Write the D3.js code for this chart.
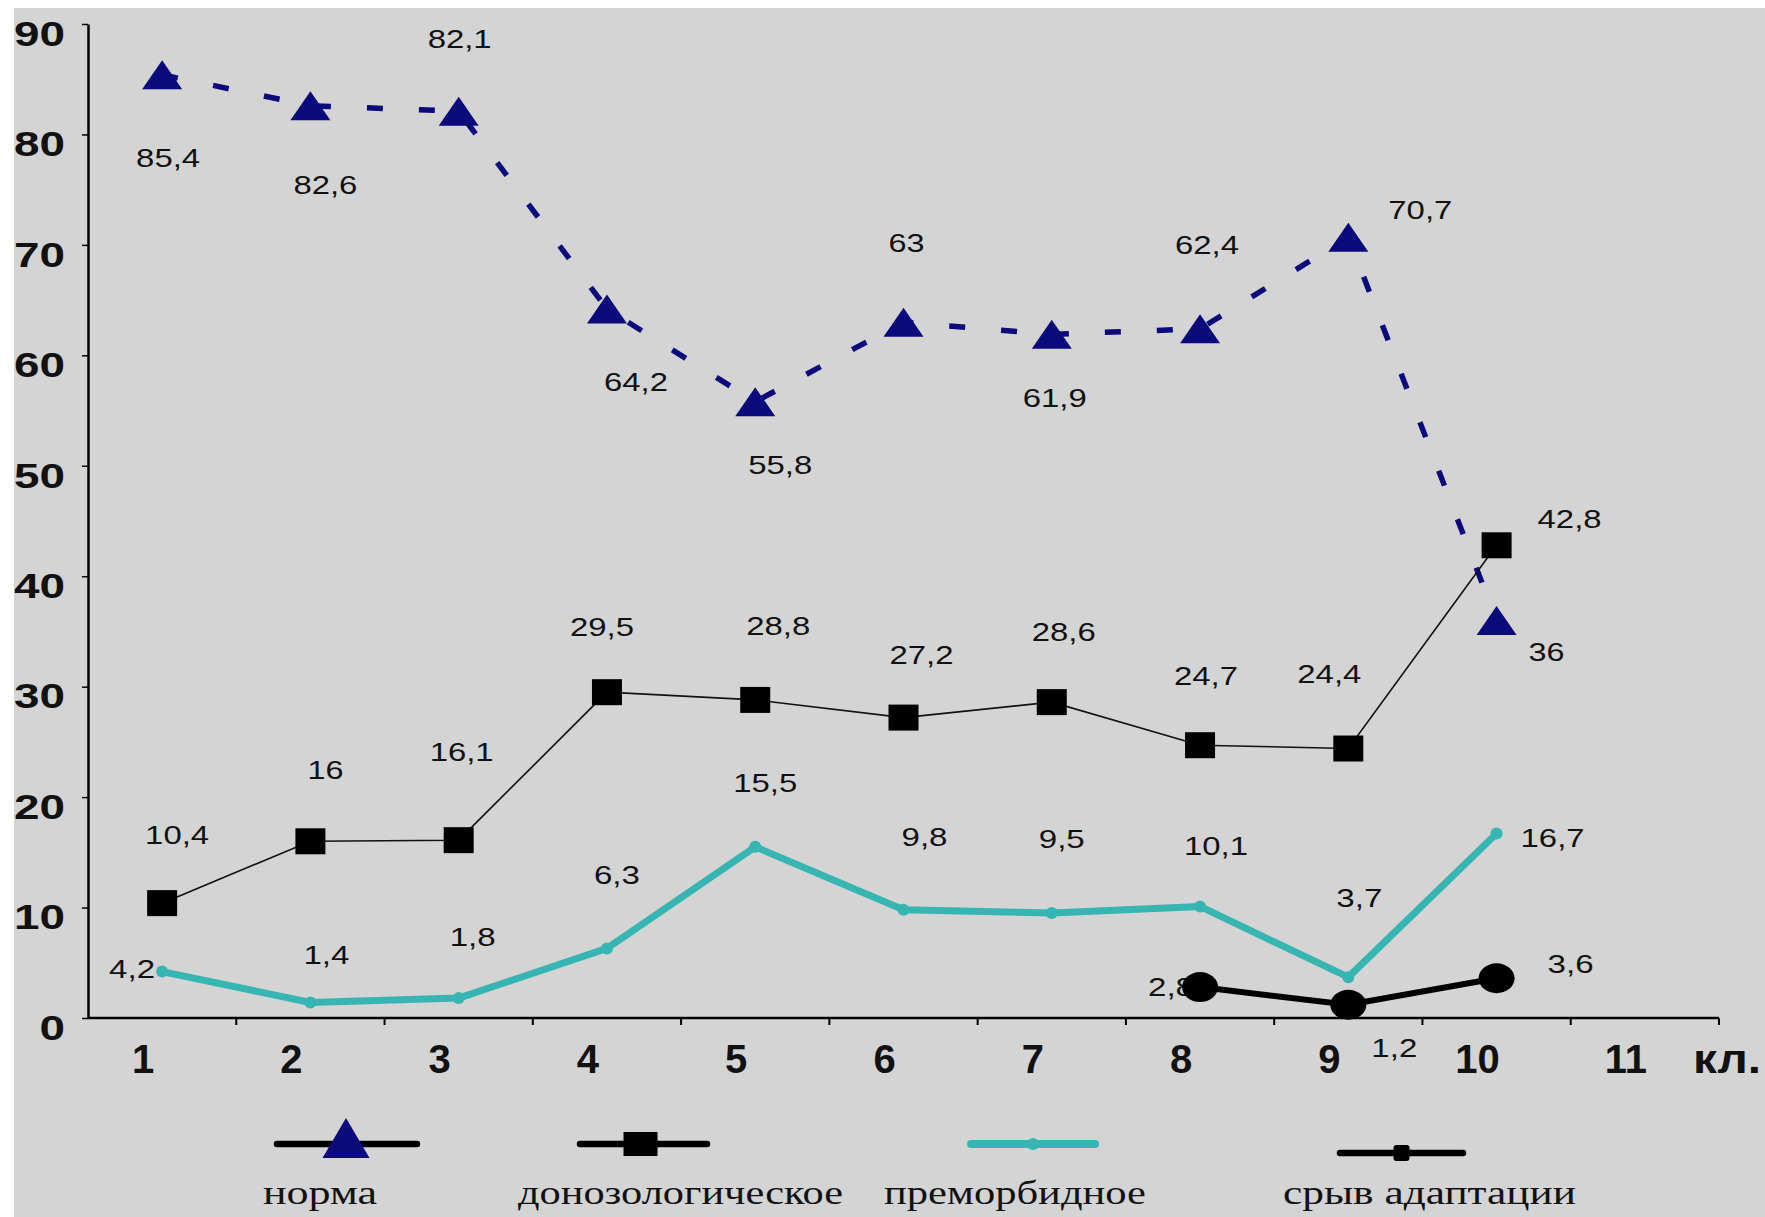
<!DOCTYPE html>
<html>
<head>
<meta charset="utf-8">
<script src="https://cdn.jsdelivr.net/npm/d3@7/dist/d3.min.js"></script>
<style>
  html, body { margin: 0; padding: 0; background: #ffffff; }
  svg { display: block; }
</style>
</head>
<body>
<svg id="chart" width="1765" height="1217"></svg>
<script>
// School classes on the horizontal axis
const classes = ["1", "2", "3", "4", "5", "6", "7", "8", "9", "10", "11"];
const unitLabel = "кл.";
const yTicks = [0, 10, 20, 30, 40, 50, 60, 70, 80, 90];

// Percent of pupils in each adaptation state, per class
const normaValues     = [85.4, 82.6, 82.1, 64.2, 55.8, 63, 61.9, 62.4, 70.7, 36];
const donozValues     = [10.4, 16, 16.1, 29.5, 28.8, 27.2, 28.6, 24.7, 24.4, 42.8];
const premorbValues   = [4.2, 1.4, 1.8, 6.3, 15.5, 9.8, 9.5, 10.1, 3.7, 16.7];
const sryvValues      = [null, null, null, null, null, null, null, 2.8, 1.2, 3.6];

const seriesNames = ["норма", "донозологическое", "преморбидное", "срыв адаптации"];

// Hand-placed value label offsets (dx, dy from the point)
const normaLabelOffsets   = [[6,83],[15,79],[1,-72],[29,73],[25,63],[3,-79],[3,64],[7,-84],[72,-27],[50,32]];
const donozLabelOffsets   = [[15,-68],[15,-71],[3,-88],[-5,-65],[23,-74],[18,-63],[12,-70],[6,-69],[-19,-75],[73,-26]];
const premorbLabelOffsets = [[-30,-3],[16,-48],[14,-61],[10,-73],[10,-64],[21,-73],[10,-74],[16,-60],[11,-79],[56,4]];
const sryvLabelOffsets    = [null,null,null,null,null,null,null,[-29,0],[46,43],[74,-14]];

const W = 1765, H = 1217;
const svg = d3.select("#chart");

// backdrop: grey panel with a thin white margin on the left and top
svg.append("rect").attr("x", 0).attr("y", 0).attr("width", W).attr("height", H).attr("fill", "#ffffff");
svg.append("rect").attr("x", 14).attr("y", 8).attr("width", W - 14).attr("height", H - 8).attr("fill", "#d4d4d4");

const x = d3.scaleBand().domain(classes).range([88, 1719]).paddingInner(0).paddingOuter(0);
const y = d3.scaleLinear().domain([0, 90]).range([1018, 24]);
const cx = c => x(c) + x.bandwidth() / 2;

const navy = "#0a0a7c";
const teal = "#36b5b2";
const sansFont = "'Liberation Sans', Arial, sans-serif";
const serifFont = "'Liberation Serif', 'Times New Roman', serif";

// ---- Y axis ----
const yAxis = d3.axisLeft(y).tickValues(yTicks).tickSize(6).tickSizeOuter(0).tickFormat(d => d);
const gy = svg.append("g").attr("transform", "translate(88,0)").call(yAxis);
gy.select(".domain").attr("stroke", "#000").attr("stroke-width", 2.5);
gy.selectAll(".tick line").attr("stroke", "#000").attr("stroke-width", 1.5);
gy.selectAll(".tick text")
  .attr("x", -23).attr("dy", "0.95em").attr("y", -12)
  .attr("fill", "#111")
  .style("font-family", sansFont).style("font-weight", "bold").style("font-size", "35px")
  .attr("textLength", d => String(d).length * 25.5)
  .attr("lengthAdjust", "spacingAndGlyphs");

// ---- X axis ----
const gx = svg.append("g");
gx.append("line").attr("x1", 88).attr("x2", 1719).attr("y1", y(0)).attr("y2", y(0))
  .attr("stroke", "#000").attr("stroke-width", 2.5);
gx.selectAll("line.tk").data(classes.slice(1).concat(["end"])).join("line").attr("class", "tk")
  .attr("x1", (d, i) => x(classes[0]) + (i + 1) * x.bandwidth())
  .attr("x2", (d, i) => x(classes[0]) + (i + 1) * x.bandwidth())
  .attr("y1", y(0)).attr("y2", y(0) + 7)
  .attr("stroke", "#000").attr("stroke-width", 2);
gx.selectAll("text.cl").data(classes).join("text").attr("class", "cl")
  .attr("x", d => cx(d) - 19).attr("y", 1073)
  .attr("text-anchor", "middle")
  .attr("fill", "#111")
  .style("font-family", sansFont).style("font-weight", "bold").style("font-size", "40px")
  .text(d => d);
gx.append("text").attr("x", 1693).attr("y", 1073)
  .attr("fill", "#111")
  .style("font-family", sansFont).style("font-weight", "bold").style("font-size", "40px")
  .attr("textLength", 68).attr("lengthAdjust", "spacingAndGlyphs")
  .text(unitLabel);

// ---- series lines ----
const toPoints = vals => vals.map((v, i) => ({ c: classes[i], v: v, i: i })).filter(p => p.v !== null);
const line = d3.line().x(p => cx(p.c)).y(p => y(p.v));

const normaPts = toPoints(normaValues);
const donozPts = toPoints(donozValues);
const premorbPts = toPoints(premorbValues);
const sryvPts = toPoints(sryvValues);

svg.append("path").datum(normaPts).attr("d", line)
  .attr("fill", "none").attr("stroke", navy).attr("stroke-width", 5.5)
  .attr("stroke-dasharray", "16,36");
svg.append("path").datum(donozPts).attr("d", line)
  .attr("fill", "none").attr("stroke", "#111").attr("stroke-width", 1.6);
svg.append("path").datum(premorbPts).attr("d", line)
  .attr("fill", "none").attr("stroke", teal).attr("stroke-width", 7).attr("stroke-linejoin", "round");
svg.append("path").datum(sryvPts).attr("d", line)
  .attr("fill", "none").attr("stroke", "#000").attr("stroke-width", 6);

// ---- value labels ----
const fmt = v => String(v).replace(".", ",");
const labelWidth = s => s.split("").reduce((a, ch) => a + (ch === "," ? 10 : 18), 0);
function drawLabels(pts, offsets) {
  svg.append("g").selectAll("text").data(pts).join("text")
    .attr("x", p => cx(p.c) + offsets[p.i][0])
    .attr("y", p => y(p.v) + offsets[p.i][1] + 9)
    .attr("text-anchor", "middle")
    .attr("fill", "#111")
    .style("font-family", sansFont).style("font-size", "25px")
    .attr("textLength", p => labelWidth(fmt(p.v)))
    .attr("lengthAdjust", "spacingAndGlyphs")
    .text(p => fmt(p.v));
}
drawLabels(normaPts, normaLabelOffsets);
drawLabels(donozPts, donozLabelOffsets);
drawLabels(premorbPts, premorbLabelOffsets);
drawLabels(sryvPts, sryvLabelOffsets);

// ---- markers ----
const tri = (w, h) => `M0,${-h / 2}L${w / 2},${h / 2}L${-w / 2},${h / 2}Z`;
svg.append("g").selectAll("path").data(normaPts).join("path")
  .attr("transform", p => `translate(${cx(p.c)},${y(p.v)})`)
  .attr("d", tri(40, 29)).attr("fill", navy);
svg.append("g").selectAll("rect").data(donozPts).join("rect")
  .attr("x", p => cx(p.c) - 15).attr("y", p => y(p.v) - 13)
  .attr("width", 30).attr("height", 26).attr("fill", "#000");
svg.append("g").selectAll("circle").data(premorbPts).join("circle")
  .attr("cx", p => cx(p.c)).attr("cy", p => y(p.v)).attr("r", 6).attr("fill", teal);
svg.append("g").selectAll("ellipse").data(sryvPts).join("ellipse")
  .attr("cx", p => cx(p.c)).attr("cy", p => y(p.v)).attr("rx", 18).attr("ry", 15).attr("fill", "#000");

// ---- legend ----
const legendItems = [
  { name: seriesNames[0], x1: 277, x2: 417, ly: 1144, tx: 263, tw: 114 },
  { name: seriesNames[1], x1: 580, x2: 707, ly: 1144, tx: 518, tw: 325 },
  { name: seriesNames[2], x1: 971, x2: 1095, ly: 1144, tx: 884, tw: 262 },
  { name: seriesNames[3], x1: 1340, x2: 1463, ly: 1153, tx: 1283, tw: 293 }
];
const lg = svg.append("g");
legendItems.forEach((it, k) => {
  const mx = (it.x1 + it.x2) / 2;
  lg.append("line").attr("x1", it.x1).attr("x2", it.x2).attr("y1", it.ly).attr("y2", it.ly)
    .attr("stroke", k === 2 ? teal : "#000").attr("stroke-width", k === 2 ? 8 : 6.5)
    .attr("stroke-linecap", "round");
  if (k === 0) {
    lg.append("path").attr("transform", `translate(${mx - 1},${it.ly - 6})`)
      .attr("d", tri(47, 40)).attr("fill", navy);
  } else if (k === 1) {
    lg.append("rect").attr("x", mx - 20).attr("y", it.ly - 12).attr("width", 34).attr("height", 24).attr("fill", "#000");
  } else if (k === 2) {
    lg.append("circle").attr("cx", mx).attr("cy", it.ly).attr("r", 6).attr("fill", teal);
  } else {
    lg.append("rect").attr("x", mx - 8).attr("y", it.ly - 8).attr("width", 16).attr("height", 16).attr("rx", 3).attr("fill", "#000");
  }
  lg.append("text").attr("x", it.tx).attr("y", 1204)
    .attr("fill", "#111")
    .style("font-family", serifFont).style("font-size", "34px")
    .attr("textLength", it.tw).attr("lengthAdjust", "spacingAndGlyphs")
    .text(it.name);
});
</script>
</body>
</html>
